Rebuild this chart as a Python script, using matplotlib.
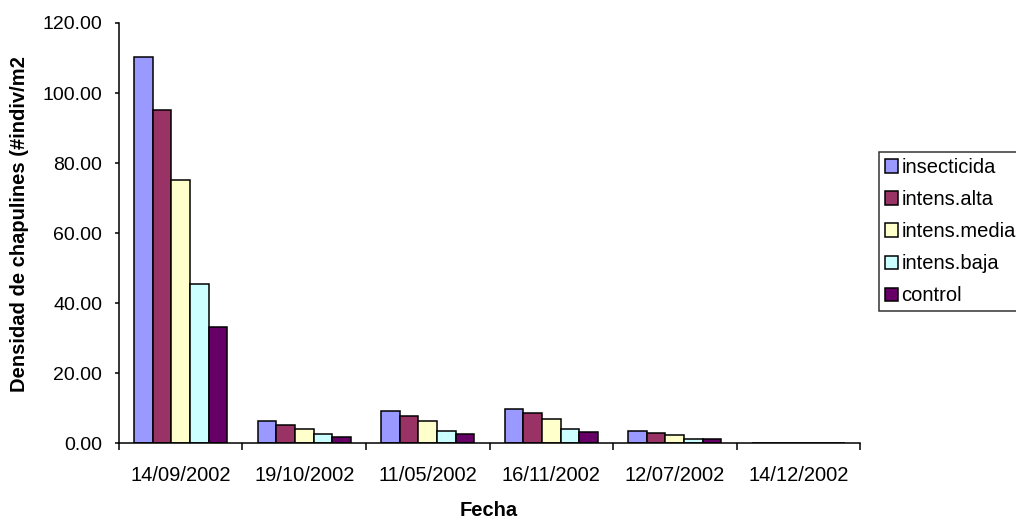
import matplotlib.pyplot as plt
import numpy as np

plt.rcParams['font.family'] = ['Liberation Sans', 'DejaVu Sans']

# data
fechas = ['14/09/2002', '19/10/2002', '11/05/2002', '16/11/2002', '12/07/2002', '14/12/2002']
insecticida = [110.3, 6.5, 9.4, 9.9, 3.7, 0.0]
intens_alta = [95.3, 5.4, 7.7, 8.8, 3.1, 0.0]
intens_media = [75.3, 4.2, 6.5, 7.1, 2.5, 0.0]
intens_baja = [45.6, 2.6, 3.7, 4.2, 1.2, 0.0]
control = [33.1, 1.9, 2.6, 3.2, 1.4, 0.0]

series = [insecticida, intens_alta, intens_media, intens_baja, control]
names = ['insecticida', 'intens.alta', 'intens.media', 'intens.baja', 'control']
colors = ['#9999FF', '#993366', '#FFFFCC', '#CCFFFF', '#660066']

fig = plt.figure(figsize=(10.16, 5.21), dpi=100)
ax = fig.add_axes([0.1171, 0.1488, 0.7294, 0.8071])

x = np.arange(len(fechas))
bw = 1 / (5 + 1.62)
for i, (vals, name, c) in enumerate(zip(series, names, colors)):
    offs = (i - 2) * bw
    ax.bar(x + offs, vals, width=bw, color=c, edgecolor='black', linewidth=1.1, label=name)

ax.set_xlim(-0.5, len(fechas) - 0.5)
ax.set_ylim(0, 120)
ax.set_yticks(np.arange(0, 121, 20))
ax.set_yticklabels([f'{v:.2f}' for v in np.arange(0, 121, 20)])

# ticks between categories, labels in the middle
ax.set_xticks(np.arange(-0.5, len(fechas), 1))
ax.set_xticklabels([])
ax.set_xticks(x, minor=True)
ax.set_xticklabels(fechas, minor=True)
ax.tick_params(axis='x', which='major', length=5, width=1.1, direction='out')
ax.tick_params(axis='x', which='minor', length=0, pad=16, labelsize=14.5)
ax.tick_params(axis='y', length=3, width=1.1, pad=9, labelsize=14)

for s in ['top', 'right']:
    ax.spines[s].set_visible(False)
for s in ['left', 'bottom']:
    ax.spines[s].set_linewidth(1.1)

fig.text(489 / 1016, 1 - 511 / 521, 'Fecha', fontsize=14.5, fontweight='bold',
         ha='center', va='center')
fig.text(20 / 1016, 1 - 224 / 521, 'Densidad de chapulines (#indiv/m2', fontsize=14.5,
         fontweight='bold', rotation=90, ha='center', va='center')

leg = ax.legend(loc='upper left', bbox_to_anchor=(879 / 1016, 1 - 152 / 521),
                bbox_transform=fig.transFigure, fontsize=14.5, frameon=True, fancybox=False,
                handlelength=0.65, handleheight=0.65, handletextpad=0.15, borderpad=0.3,
                labelspacing=0.65, borderaxespad=0)
leg.get_frame().set_edgecolor('black')
leg.get_frame().set_linewidth(1.1)

fig.savefig('out.png', dpi=100)
